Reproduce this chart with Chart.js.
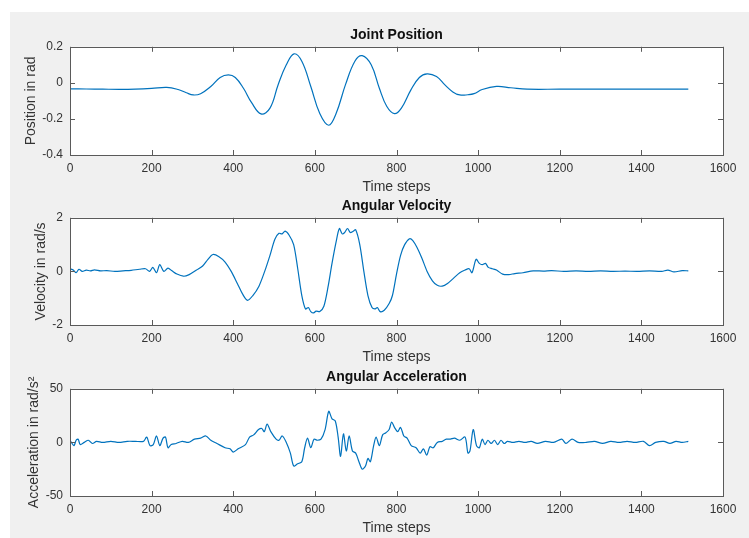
<!DOCTYPE html>
<html lang="en">
<head>
<meta charset="UTF-8" />
<title>Joint Position / Velocity / Acceleration</title>
<script src="https://cdn.jsdelivr.net/npm/chart.js"></script>
<style>
  body { margin: 0; background: #fff; }
  #page { position: relative; width: 749px; height: 538px; }
  #bg { position: absolute; left: 10px; top: 12px; width: 739px; height: 526px; background: #f0f0f0; }
  canvas { position: absolute; left: 0; top: 0; }
</style>
</head>
<body>
<div id="page">
  <div id="bg"></div>
  <canvas id="pos" width="749" height="538"></canvas>
  <canvas id="vel" width="749" height="538"></canvas>
  <canvas id="acc" width="749" height="538"></canvas>
</div>
<script>
// values (time step, value)
const posSteps = [0, 40, 80, 120, 160, 200, 237, 265, 285, 302, 320, 345, 368, 388, 405, 425, 445, 468, 490, 510, 530, 549, 568, 590, 612, 634, 652, 675, 698, 716, 738, 758, 776, 795, 812, 835, 856, 875, 898, 918, 938, 955, 975, 990, 1010, 1045, 1080, 1120, 1200, 1300, 1400, 1515];
const posValues = [-0.033, -0.034, -0.035, -0.036, -0.035, -0.031, -0.025, -0.037, -0.055, -0.067, -0.06, -0.02, 0.03, 0.044, 0.03, -0.03, -0.11, -0.172, -0.14, -0.01, 0.10, 0.161, 0.12, -0.02, -0.17, -0.235, -0.17, -0.01, 0.12, 0.151, 0.10, -0.03, -0.13, -0.171, -0.14, -0.04, 0.03, 0.05, 0.035, -0.01, -0.05, -0.067, -0.066, -0.06, -0.037, -0.02, -0.027, -0.035, -0.035, -0.035, -0.035, -0.035];

const velSteps = [0, 8, 15, 22, 30, 40, 50, 60, 75, 90, 110, 130, 150, 170, 185, 195, 203, 212, 220, 230, 240, 250, 262, 278, 292, 310, 325, 338, 350, 365, 380, 395, 410, 423, 435, 448, 463, 477, 490, 502, 512, 520, 527, 537, 548, 558, 568, 577, 584, 590, 597, 603, 612, 622, 632, 642, 652, 660, 667, 673, 680, 687, 694, 700, 710, 720, 730, 740, 747, 753, 760, 770, 782, 790, 800, 810, 820, 832, 840, 850, 862, 875, 888, 900, 912, 925, 940, 955, 968, 978, 985, 995, 1003, 1010, 1018, 1025, 1035, 1045, 1060, 1075, 1090, 1110, 1135, 1160, 1180, 1210, 1240, 1270, 1300, 1330, 1360, 1390, 1420, 1450, 1465, 1480, 1500, 1515];
const velValues = [0.1, 0.05, -0.05, 0.08, 0.0, 0.05, 0.02, 0.06, 0.02, 0.03, 0.0, 0.02, 0.04, 0.08, 0.1, 0.0, 0.15, -0.05, 0.25, 0.0, 0.12, 0.02, -0.1, -0.18, -0.12, 0.05, 0.2, 0.45, 0.63, 0.55, 0.35, 0.0, -0.45, -0.85, -1.08, -0.9, -0.55, 0.0, 0.6, 1.2, 1.42, 1.4, 1.5, 1.35, 1.0, 0.1, -0.9, -1.4, -1.35, -1.5, -1.55, -1.48, -1.5, -1.3, -0.6, 0.3, 1.1, 1.6, 1.4, 1.45, 1.6, 1.45, 1.5, 1.55, 1.0, 0.0, -0.9, -1.35, -1.4, -1.35, -1.5, -1.45, -1.2, -0.9, -0.1, 0.6, 1.0, 1.22, 1.15, 0.9, 0.5, 0.0, -0.35, -0.52, -0.55, -0.45, -0.25, -0.05, 0.05, 0.1, -0.05, 0.45, 0.3, 0.25, 0.3, 0.15, 0.1, 0.05, -0.1, -0.12, -0.08, -0.05, 0.02, 0.01, 0.03, 0.0, 0.02, 0.0, 0.02, 0.0, 0.01, 0.0, 0.02, 0.0, 0.05, -0.02, 0.03, 0.02];

const accSteps = [0, 5, 10, 15, 20, 25, 35, 45, 55, 65, 80, 100, 120, 140, 160, 180, 188, 196, 204, 212, 220, 228, 234, 240, 248, 260, 275, 290, 305, 320, 333, 345, 360, 380, 392, 400, 412, 430, 440, 450, 462, 470, 476, 483, 492, 505, 512, 520, 530, 540, 548, 558, 568, 575, 582, 590, 598, 606, 615, 625, 634, 642, 650, 657, 663, 670, 677, 684, 692, 700, 708, 716, 724, 730, 736, 744, 750, 758, 766, 774, 782, 788, 795, 803, 810, 818, 826, 836, 848, 858, 866, 874, 882, 890, 900, 912, 922, 932, 942, 955, 968, 975, 980, 988, 996, 1003, 1010, 1017, 1024, 1032, 1040, 1048, 1056, 1064, 1072, 1085, 1100, 1115, 1130, 1145, 1165, 1185, 1205, 1215, 1230, 1245, 1265, 1285, 1305, 1325, 1345, 1365, 1385, 1405, 1420, 1435, 1455, 1470, 1485, 1500, 1515];
const accValues = [2, -1, -3, 2, 3, -2, 0, 2, -1, 1, 0, 1, 0, 1, 1, 1, 5, -3, -2, 6, -3, 4, 5, -5, -2, -1, 1, 0, 3, 4, 6, 2, -1, -5, -6, -9, -6, -2, 5, 7, 12, 13, 10, 17, 10, 3, 2, 6, 0, -10, -22, -20, -18, -5, 4, -5, 3, 2, 3, 12, 29, 22, 20, 5, -13, 8, -8, 6, -8, -10, -18, -25, -22, -15, -18, -3, 5, -3, 7, 9, 12, 19, 14, 10, 14, 6, 4, -3, -5, -10, -6, -12, -4, -5, 0, 1, 3, 3, 4, 2, 5, -10, -8, 12, -3, -5, 3, -2, 2, -1, 2, -2, 2, -1, 1, 0, 1, 0, 1, -1, 1, 0, 3, -1, 3, 0, 0, 1, -1, 1, 0, 1, 0, 1, -3, 0, 1, -1, 1, 0, 1];

const FONT = "'Liberation Sans', Arial, sans-serif";
const INK = '#333333';
// MATLAB-like tick text: no thousands separator, no trailing zeros
const plainTick = v => String(Math.round(v * 1000) / 1000);

// white axes background, box and inward ticks on all four sides (MATLAB style)
const axesBox = {
    id: 'axesBox',
    beforeDraw(chart) {
        const { ctx, chartArea: a } = chart;
        ctx.save();
        ctx.fillStyle = '#ffffff';
        ctx.fillRect(a.left, a.top, a.right - a.left, a.bottom - a.top);
        ctx.restore();
    },
    afterDraw(chart) {
        const { ctx, chartArea: a, scales } = chart;
        ctx.save();
        ctx.strokeStyle = '#5a5a5a';
        ctx.lineWidth = 1;
        ctx.beginPath();
        scales.x.ticks.forEach(t => {
            const px = Math.round(scales.x.getPixelForValue(t.value)) + 0.5;
            ctx.moveTo(px, a.bottom); ctx.lineTo(px, a.bottom - 5);
            ctx.moveTo(px, a.top); ctx.lineTo(px, a.top + 5);
        });
        scales.y.ticks.forEach(t => {
            const py = Math.round(scales.y.getPixelForValue(t.value)) + 0.5;
            ctx.moveTo(a.left, py); ctx.lineTo(a.left + 5, py);
            ctx.moveTo(a.right, py); ctx.lineTo(a.right - 5, py);
        });
        ctx.stroke();
        ctx.strokeRect(Math.round(a.left) + 0.5, Math.round(a.top) + 0.5,
            Math.round(a.right - a.left), Math.round(a.bottom - a.top));
        ctx.restore();
    }
};

function createChart(id, cfg) {
    return new Chart(document.getElementById(id), {
        type: 'line',
        data: {
            datasets: [{
                data: cfg.steps.map((s, i) => ({ x: s, y: cfg.values[i] })),
                borderColor: '#0072BD',
                borderWidth: 1.2,
                pointRadius: 0,
                tension: cfg.tension,
                fill: false
            }]
        },
        options: {
            responsive: false,
            animation: false,
            layout: { padding: { left: 0, right: 26, top: cfg.top, bottom: cfg.bottom } },
            plugins: {
                legend: { display: false },
                tooltip: { enabled: false },
                title: {
                    display: true, text: cfg.title, fullSize: false, color: '#111',
                    font: { family: FONT, size: 14, weight: 'bold' },
                    padding: { top: 0, bottom: 3 }
                }
            },
            scales: {
                x: {
                    type: 'linear', min: 0, max: 1600,
                    grid: { display: false, drawTicks: false }, border: { display: false },
                    ticks: { stepSize: 200, padding: 6, color: INK, font: { family: FONT, size: 12 }, callback: plainTick },
                    title: { display: true, text: 'Time steps', color: INK, font: { family: FONT, size: 14 }, padding: 1 },
                    afterFit: s => { s.height = 42; }
                },
                y: {
                    min: cfg.min, max: cfg.max,
                    grid: { display: false, drawTicks: false }, border: { display: false },
                    ticks: { stepSize: cfg.step, padding: 7, color: INK, font: { family: FONT, size: 12 }, callback: plainTick },
                    title: { display: true, text: cfg.ylabel, color: INK, font: { family: FONT, size: 14 }, padding: { top: cfg.ypad, bottom: 0 } },
                    afterFit: s => { s.width = 70; }
                }
            }
        },
        plugins: [axesBox]
    });
}

createChart('pos', {
    steps: posSteps, values: posValues, tension: 0.4,
    title: 'Joint Position', ylabel: 'Position in rad',
    min: -0.4, max: 0.2, step: 0.2, ypad: 23,
    top: 27, bottom: 341
});
createChart('vel', {
    steps: velSteps, values: velValues, tension: 0.3,
    title: 'Angular Velocity', ylabel: 'Velocity in rad/s',
    min: -2, max: 2, step: 2, ypad: 33,
    top: 198, bottom: 171
});
createChart('acc', {
    steps: accSteps, values: accValues, tension: 0.3,
    title: 'Angular Acceleration', ylabel: 'Acceleration in rad/s\u00b2',
    min: -50, max: 50, step: 50, ypad: 26,
    top: 369, bottom: 0
});
</script>
</body>
</html>
